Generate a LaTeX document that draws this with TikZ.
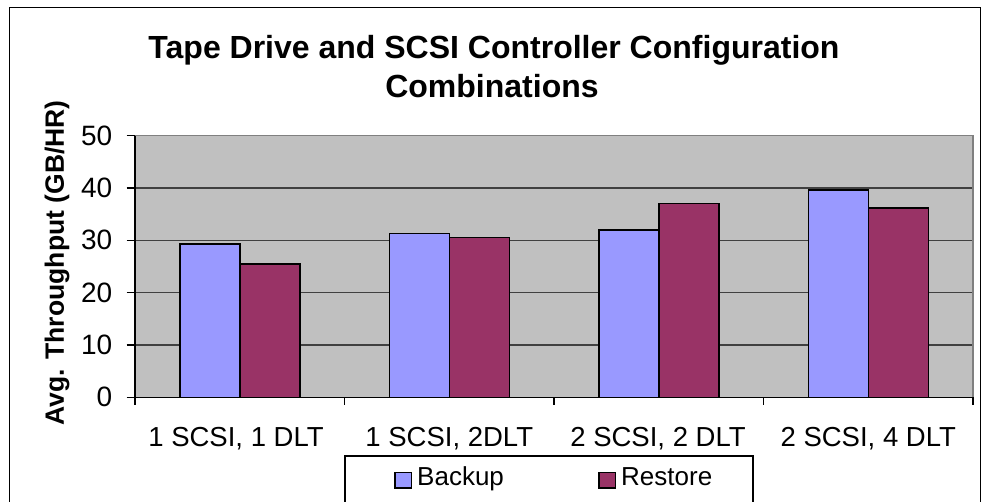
\documentclass[tikz,border=0pt]{standalone}
\usepackage{fontspec}
\setmainfont{Liberation Sans}
\definecolor{plotgray}{HTML}{C0C0C0}
\definecolor{backupc}{HTML}{9999FF}
\definecolor{restorec}{HTML}{993366}
\definecolor{gridc}{HTML}{404040}
\definecolor{edgec}{HTML}{808080}
\begin{document}
\begin{tikzpicture}[x=1pt,y=-1pt,
  ticklabel/.style={font=\fontsize{28}{28}\selectfont, anchor=east, inner sep=0pt},
  catlabel/.style={font=\fontsize{27.5}{27.5}\selectfont, anchor=base, inner sep=0pt},
  legtext/.style={font=\fontsize{26}{26}\selectfont, anchor=base west, inner sep=0pt},
  titletext/.style={font=\bfseries\fontsize{32}{32}\selectfont, anchor=base, inner sep=0pt},
  barbox/.style={draw=black, line width=1.5pt},
  gridline/.style={draw=gridc, line width=1.1pt},
  axisline/.style={draw=black, line width=1.1pt},
  legswatch/.style={draw=black, line width=1.1pt},
]
\useasboundingbox (0,0) rectangle (984,502);
\fill[white] (0,0) rectangle (984,502);
% outer frame and legend frame (cut by the page bottom)
\begin{scope}
\clip (0,0) rectangle (984,502);
\draw[line width=1.6pt] (9.5,7.5) rectangle (980.5,530);
\draw[line width=1.1pt, fill=white] (345,456) rectangle (753,530);
\end{scope}
% title
\node[titletext] (t1) at (494,58.3) {Tape Drive and SCSI Controller Configuration};
\node[titletext] (t2) at (492,97.5) {Combinations};
% plot area
\fill[plotgray] (135,135.7) rectangle (973,397.3);
\foreach \v in {10,20,30,40}{
  \draw[gridline] (135,{397.3-5.232*\v}) -- (973,{397.3-5.232*\v});
}
\draw[draw=edgec, line width=1.4pt] (135,135.7) -- (973,135.7) -- (973,397.3);
% bars
\foreach \i/\b/\r in {0/29.3/25.5, 1/31.3/30.5, 2/32.0/37.0, 3/39.6/36.2}{
  \pgfmathsetmacro{\c}{135+209.5*\i}
  \filldraw[barbox, fill=backupc] ({\c+44.75},397.3) rectangle ({\c+104.75},{397.3-5.232*\b});
  \filldraw[barbox, fill=restorec] ({\c+104.75},397.3) rectangle ({\c+164.75},{397.3-5.232*\r});
}
% axes
\draw[axisline] (135,135.7) -- (135,405);
\draw[axisline] (135,397.3) -- (973,397.3);
\foreach \v in {0,10,20,30,40,50}{
  \draw[axisline] (126.7,{397.3-5.232*\v}) -- (135,{397.3-5.232*\v});
}
\foreach \i in {1,2,3,4}{
  \draw[axisline] ({135+209.5*\i},397.3) -- ({135+209.5*\i},405);
}
% y tick labels
\node[ticklabel] (y0) at (112.5,397.3) {0};
\node[ticklabel] (y10) at (112.5,345.0) {10};
\node[ticklabel] (y20) at (112.5,292.7) {20};
\node[ticklabel] (y30) at (112.5,240.3) {30};
\node[ticklabel] (y40) at (112.5,188.0) {40};
\node[ticklabel] (y50) at (112.5,135.7) {50};
% y axis title
\node[font=\bfseries\fontsize{26.5}{26.5}\selectfont, rotate=90, inner sep=0pt] (ytitle) at (57,263) {Avg. Throughput (GB/HR)};
% category labels
\node[catlabel] (c1) at (236,446.7) {1 SCSI, 1 DLT};
\node[catlabel] (c2) at (449.25,446.7) {1 SCSI, 2DLT};
\node[catlabel] (c3) at (658,446.7) {2 SCSI, 2 DLT};
\node[catlabel] (c4) at (868.25,446.7) {2 SCSI, 4 DLT};
% legend
\filldraw[legswatch, fill=backupc] (395,472.7) rectangle (411.5,488);
\node[legtext] (lb) at (417,485) {Backup};
\filldraw[legswatch, fill=restorec] (599,472.7) rectangle (615.5,488);
\node[legtext] (lr) at (621,485) {Restore};
\end{tikzpicture}
\end{document}
